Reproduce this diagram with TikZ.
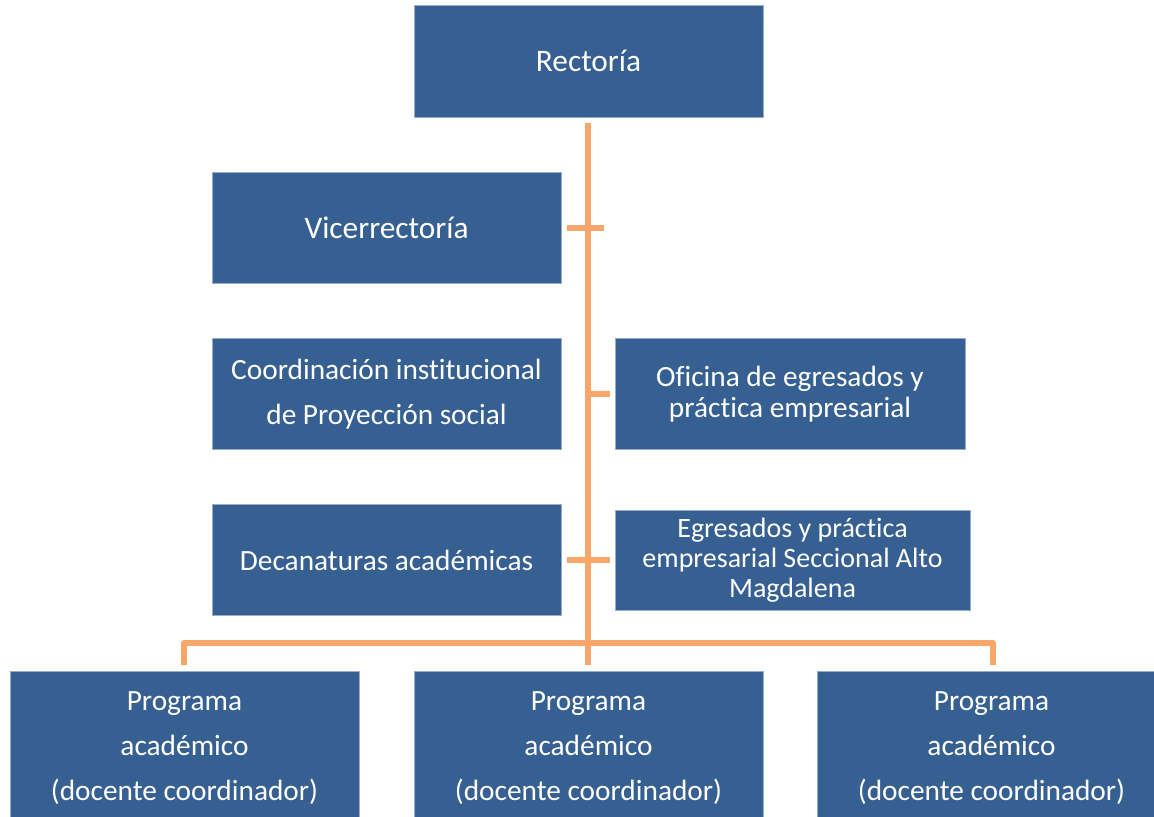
\documentclass[tikz,border=0pt]{standalone}
\usepackage{fontspec}
\setmainfont[Ligatures=NoCommon]{Carlito}
\definecolor{boxblue}{RGB}{55,96,146}
\definecolor{boxedge}{RGB}{150,172,200}
\definecolor{lineorange}{RGB}{249,166,107}
\tikzset{
  orgbox/.style={rectangle, fill=boxblue, draw=boxedge, line width=0.4pt, text=white, align=center, inner sep=0pt, font=\fontsize{22pt}{23.25pt}\selectfont},
  wide/.style={minimum width=261.75pt},
  conn/.style={draw=lineorange, line width=4.5pt, line join=round}
}
\begin{document}
\begin{tikzpicture}[x=0.75pt, y=-0.75pt]
\useasboundingbox (0,0) rectangle (1154,817);
\clip (0,0) rectangle (1154,817);
% boxes
\node[orgbox, wide, minimum height=84pt, font=\fontsize{23.5pt}{26pt}\selectfont] (rect) at (588.5,61) {Rectoría};
\node[orgbox, wide, minimum height=83.25pt, font=\fontsize{23.5pt}{26pt}\selectfont] (vice) at (386.5,227.5) {Vicerrectoría};
\node[orgbox, wide, minimum height=83.25pt, font=\fontsize{22pt}{33.75pt}\selectfont] (coord) at (386.5,394) {Coordinación institucional\\de Proyección social};
\node[orgbox, minimum width=262.5pt, minimum height=83.25pt] (ofic) at (790,394) {Oficina de egresados y\\práctica empresarial};
\node[orgbox, wide, minimum height=83.25pt] (decan) at (386.5,560) {Decanaturas académicas};
\node[orgbox, minimum width=266.25pt, minimum height=75pt, font=\fontsize{21pt}{22.5pt}\selectfont] (egres) at (792.5,560) {Egresados y práctica\\empresarial Seccional Alto\\Magdalena};
\foreach \n/\x in {p1/184.5, p2/588.5, p3/991.5}{
  \node[orgbox, wide, minimum height=115.5pt, font=\fontsize{22pt}{33.75pt}\selectfont] (\n) at (\x,748) {Programa\\académico\\(docente coordinador)};
}
% connector points
\coordinate (ttop) at (588,123);
\coordinate (tbot) at (588,665);
\coordinate (hl) at (184,643);
\coordinate (hr) at (993,643);
\coordinate (dl) at (184,665);
\coordinate (dr) at (993,665);
\coordinate (k1a) at (567,228);
\coordinate (k1b) at (604,228);
\coordinate (k2a) at (588,394);
\coordinate (k2b) at (610,394);
\coordinate (k3a) at (567,560);
\coordinate (k3b) at (610,560);
% connectors
\draw[conn] (ttop) -- (tbot);
\draw[conn] (dl) -- (hl) -- (hr) -- (dr);
\draw[conn] (k1a) -- (k1b);
\draw[conn] (k2a) -- (k2b);
\draw[conn] (k3a) -- (k3b);
\end{tikzpicture}
\end{document}
